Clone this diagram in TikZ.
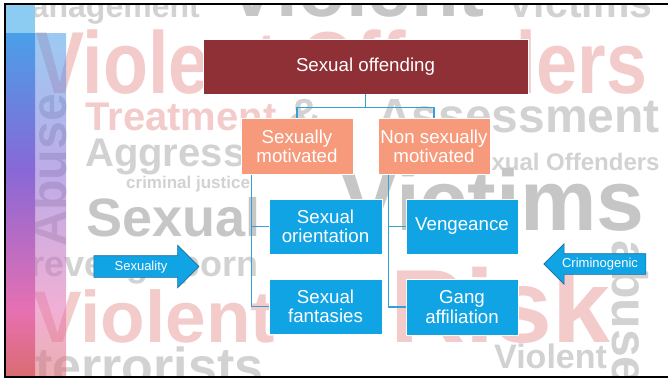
\documentclass[tikz,border=0pt]{standalone}
\usepackage{fontspec}
\setmainfont{Liberation Sans}
\usetikzlibrary{shapes.arrows}
\pgfdeclarelayer{background}
\pgfsetlayers{background,main}

\definecolor{offred}{HTML}{8E3035}
\definecolor{motsalmon}{HTML}{F79A7B}
\definecolor{leafblue}{HTML}{10A4E4}
\definecolor{linkblue}{HTML}{3A9ED6}
\definecolor{arrowedge}{HTML}{1B6A9C}
\definecolor{cloudgray}{HTML}{D2D2D2}
\definecolor{clouddark}{HTML}{C6C6C6}
\definecolor{cloudpink}{HTML}{F3CBCB}
\definecolor{stripsky}{HTML}{8CCBF2}
\definecolor{stripblue}{HTML}{4A9FE8}
\definecolor{strippurple}{HTML}{8868D6}
\definecolor{strippink}{HTML}{E670B2}
\definecolor{stripred}{HTML}{DA6C72}

\tikzset{
  box/.style={draw=white, line width=0.8pt, text=white, align=center, inner sep=0pt,
    font=\fontsize{18.7}{19.5}\selectfont},
  topbox/.style={box, fill=offred, minimum width=325pt, minimum height=55pt},
  catbox/.style={box, fill=motsalmon, minimum width=112pt, minimum height=56pt},
  leafbox/.style={box, fill=leafblue, minimum width=113pt, minimum height=55pt},
  link/.style={draw=linkblue, line width=1.1pt},
  bigarrow/.style={single arrow, draw=arrowedge, fill=leafblue, text=white, line width=0.6pt,
    font=\fontsize{13}{13}\selectfont, text height=9.5pt, text depth=2.5pt,
    inner xsep=2pt, inner ysep=4.5pt, single arrow head extend=10.5pt, single arrow tip angle=90},
  cloudword/.style={inner sep=0pt, anchor=base west, font=\bfseries\fontsize{#1}{#1}\selectfont},
}

\begin{document}
\begin{tikzpicture}[x=1pt,y=-1pt]
\useasboundingbox (0,0) rectangle (668,381);
\begin{pgfonlayer}{background}
\fill[white] (0,0) rectangle (668,381);
\begin{scope}
\clip (5,3.5) rectangle (668,376.5);
% word cloud behind the chart
\node[cloudword=32, text=cloudgray] (wmanage) at (4,17) {Management};
\node[cloudword=78, text=clouddark] (wviolA) at (226,16) {Violent};
\node[cloudword=41, text=cloudgray] (wvictA) at (507,17) {Victims};
\node[cloudword=88, text=cloudpink, xscale=0.836] (wviolB) at (35,93) {Violent Offenders};
\node[cloudword=40, text=cloudpink] (wtreat) at (85,130) {Treatment};
\node[cloudword=48, text=cloudgray] (wamp) at (287,132) {\&};
\node[cloudword=48, text=cloudgray] (wassess) at (377,132) {Assessment};
\node[cloudword=40, text=cloudgray] (waggr) at (85,166) {Aggression};
\node[cloudword=24, text=cloudgray] (wsexoff) at (462,170) {Sexual Offenders};
\node[cloudword=17, text=cloudgray] (wcrim) at (126,188) {criminal justice};
\node[cloudword=54, text=clouddark] (wsexual) at (86,236) {Sexual};
\node[cloudword=86, text=clouddark] (wvictB) at (340,230) {Victims};
\node[cloudword=36, text=cloudgray] (wporn) at (30,276) {revenge porn};
\node[cloudword=73, text=cloudpink] (wviolC) at (33,342) {Violent};
\node[cloudword=52, text=cloudgray] (wterr) at (35,384) {terrorists};
\node[cloudword=104, text=cloudpink] (wrisk) at (390,342) {Risk};
\node[cloudword=34, text=cloudgray] (wviolD) at (494,368) {Violent};
\node[cloudword=50, text=cloudgray, rotate=90] (wabuseA) at (66,247) {Abuse};
\node[cloudword=50, text=cloudgray, rotate=-90] (wabuseB) at (612,240) {abuse};
\end{scope}
\end{pgfonlayer}

% side strip
\fill[stripsky] (6,4) rectangle (35,33);
\shade[top color=stripblue, bottom color=strippurple] (6,33) rectangle (35,170);
\shade[top color=strippurple, bottom color=strippink] (6,170) rectangle (35,310);
\shade[top color=strippink, bottom color=stripred] (6,310) rectangle (35,376);
\begin{scope}[transparency group, opacity=0.55]
\shade[top color=stripblue, bottom color=strippurple] (35,33) rectangle (66,170);
\shade[top color=strippurple, bottom color=strippink] (35,170) rectangle (66,310);
\shade[top color=strippink, bottom color=stripred] (35,310) rectangle (66,376);
\end{scope}
\draw[line width=2pt] (668,3.5) -- (5,3.5) -- (5,376.5) -- (668,376.5);

% chart
\node[topbox] (offend) at (365.5,66.5) {Sexual offending};
\node[catbox] (sexmot) at (297,146.5) {Sexually\\motivated};
\node[catbox] (nonmot) at (434,146.5) {Non sexually\\motivated};
\node[leafbox] (orient) at (325.5,226.5) {Sexual\\orientation};
\node[leafbox] (fantas) at (325.5,306.5) {Sexual\\fantasies};
\node[leafbox, minimum width=112pt] (venge) at (462,226.5) {Vengeance};
\node[leafbox, minimum width=112pt, minimum height=56pt] (gang) at (462,307) {Gang\\affiliation};

\draw[link] (offend.south) -- ++(0,13) coordinate (split) -| (sexmot.north);
\draw[link] (split) -| (nonmot.north);
\draw[link] ([xshift=11pt]sexmot.south west) |- (orient.west);
\draw[link] ([xshift=11pt]sexmot.south west) |- (fantas.west);
\draw[link] ([xshift=11pt]nonmot.south west) |- (venge.west);
\draw[link] ([xshift=11pt]nonmot.south west) |- (gang.west);

% side arrows
\node[bigarrow, minimum height=105pt] (sexarrow) at (141,266.5) {Sexuality};
\node[bigarrow, minimum height=102pt, shape border rotate=180, inner ysep=4pt,
  single arrow head extend=10pt] (crimarrow) at (600,264) {Criminogenic};
\end{tikzpicture}
\end{document}
